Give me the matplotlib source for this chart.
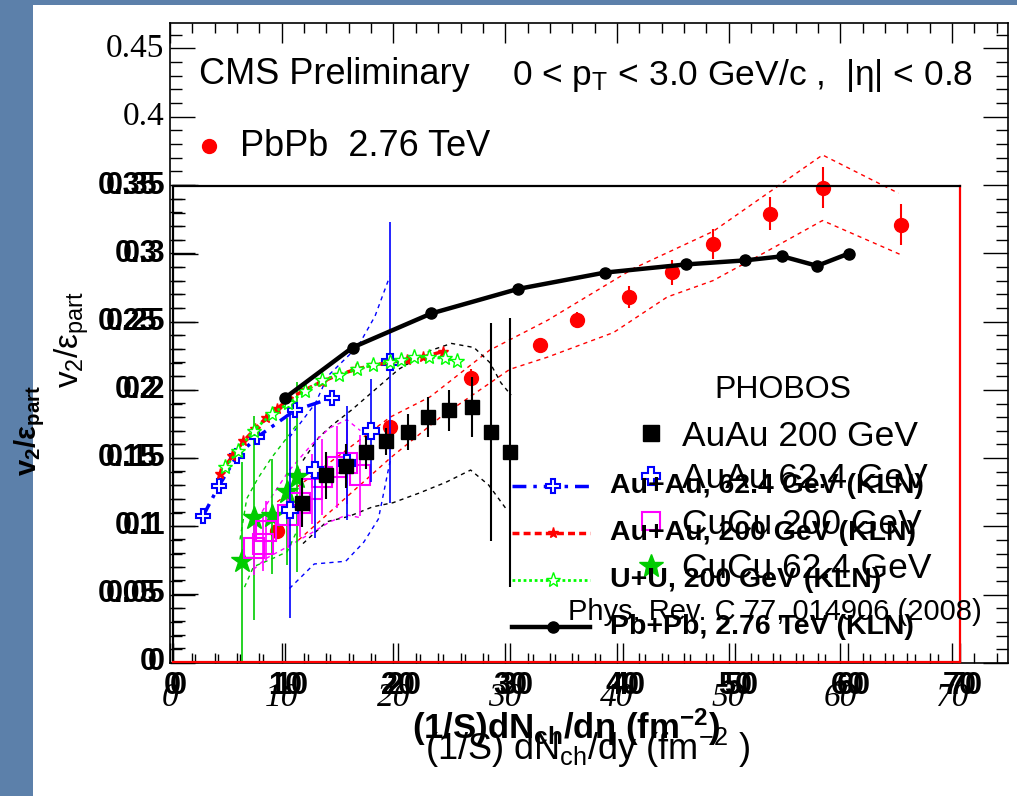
import matplotlib
matplotlib.use("Agg")
import matplotlib.pyplot as plt
from matplotlib.patches import Rectangle
from matplotlib.lines import Line2D
from matplotlib.ticker import MultipleLocator

plt.rcParams['font.family'] = ['Liberation Sans', 'DejaVu Sans']
plt.rcParams['mathtext.fontset'] = 'custom'
plt.rcParams['mathtext.rm'] = 'Liberation Sans'
plt.rcParams['mathtext.it'] = 'Liberation Sans'
plt.rcParams['mathtext.bf'] = 'Liberation Sans:bold'

# CMS PbPb 2.76 TeV
cms_x = [9.6, 19.7, 26.9, 33.1, 36.4, 41.1, 44.9, 48.6, 53.7, 58.4, 65.4]
cms_y = [0.097, 0.173, 0.209, 0.233, 0.251, 0.268, 0.286, 0.307, 0.329, 0.348, 0.321]
cms_err = [0.005, 0.005, 0.006, 0.005, 0.006, 0.008, 0.009, 0.011, 0.012, 0.015, 0.015]
cms_up_x = [9.6, 19.7, 23.3, 28.6, 33.8, 41.5, 48.6, 58.4, 65.2]
cms_up_y = [0.118, 0.180, 0.195, 0.229, 0.251, 0.289, 0.316, 0.372, 0.344]
cms_lo_x = [11.5, 19.7, 24.2, 30.4, 33.8, 39.7, 44.5, 48.6, 53.1, 58.4, 65.4]
cms_lo_y = [0.090, 0.150, 0.180, 0.215, 0.224, 0.242, 0.268, 0.280, 0.300, 0.324, 0.299]

# PHOBOS AuAu 200 GeV
auau200_x = [11.5, 13.6, 15.4, 17.2, 19.0, 20.9, 22.7, 24.6, 26.6, 28.3, 30.0]
auau200_y = [0.117, 0.137, 0.144, 0.154, 0.162, 0.169, 0.180, 0.185, 0.187, 0.169, 0.154]
auau200_err = [0.018, 0.017, 0.016, 0.012, 0.010, 0.013, 0.015, 0.015, 0.022, 0.080, 0.099]
auau200_up_x = [11.6, 13.0, 14.2, 15.9, 18.0, 20.1, 23.0, 24.8, 26.8, 28.2, 29.2, 30.1]
auau200_up_y = [0.148, 0.165, 0.174, 0.185, 0.200, 0.215, 0.229, 0.234, 0.231, 0.220, 0.205, 0.196]
auau200_lo_x = [11.6, 13.7, 15.7, 17.8, 19.6, 21.9, 24.3, 26.5, 28.1, 29.7]
auau200_lo_y = [0.087, 0.103, 0.107, 0.114, 0.117, 0.124, 0.132, 0.141, 0.130, 0.112]

# PHOBOS AuAu 62.4 GeV
auau62_x = [10.4, 12.7, 15.5, 17.6, 19.3]
auau62_y = [0.112, 0.141, 0.146, 0.170, 0.220]
auau62_err = [0.080, 0.050, 0.042, 0.038, 0.103]
auau62_up_x = [10.4, 12.7, 13.8, 16.5, 18.0, 19.3]
auau62_up_y = [0.165, 0.190, 0.210, 0.232, 0.254, 0.283]
auau62_lo_x = [10.4, 12.6, 15.4, 17.0, 18.3, 19.4]
auau62_lo_y = [0.054, 0.072, 0.074, 0.088, 0.105, 0.150]

# PHOBOS CuCu 200 GeV
cucu200_x = [7.2, 8.0, 8.3, 10.3, 11.3, 12.4, 13.3, 14.6, 15.5, 16.7]
cucu200_y = [0.084, 0.087, 0.096, 0.108, 0.117, 0.127, 0.136, 0.143, 0.146, 0.137]
cucu200_err = [0.020, 0.020, 0.022, 0.024, 0.025, 0.026, 0.028, 0.030, 0.030, 0.030]
cucu200_up_x = [7.2, 8.3, 10.3, 12.4, 14.0, 15.5, 16.7]
cucu200_up_y = [0.100, 0.115, 0.140, 0.160, 0.172, 0.178, 0.170]
cucu200_lo_x = [7.2, 8.3, 10.3, 12.4, 14.0, 15.5, 16.7]
cucu200_lo_y = [0.068, 0.076, 0.085, 0.095, 0.103, 0.108, 0.106]

# PHOBOS CuCu 62.4 GeV
cucu62_x = [6.2, 7.2, 8.8, 10.2, 11.1]
cucu62_y = [0.074, 0.106, 0.107, 0.125, 0.136]
cucu62_err = [0.073, 0.075, 0.042, 0.054, 0.070]
cucu62_up_x = [6.0, 6.6, 7.6, 8.8, 10.2, 11.1]
cucu62_up_y = [0.090, 0.120, 0.135, 0.150, 0.165, 0.175]
cucu62_lo_x = [6.4, 7.2, 8.9, 10.2, 11.1]
cucu62_lo_y = [0.055, 0.070, 0.076, 0.081, 0.097]

# KLN calculations
kln_au62_x = [2.7, 4.1, 5.7, 7.5, 10.9, 14.2]
kln_au62_y = [0.107, 0.129, 0.151, 0.165, 0.185, 0.194]
kln_au200_x = [4.2, 5.3, 6.3, 7.3, 8.3, 9.3, 10.3, 11.8, 13.3, 14.8, 16.3, 17.8, 19.3, 20.8, 22.3, 24.0]
kln_au200_y = [0.138, 0.151, 0.162, 0.171, 0.179, 0.186, 0.193, 0.200, 0.206, 0.211, 0.215, 0.218, 0.220, 0.222, 0.224, 0.228]
kln_uu_x = [4.7, 5.8, 7.2, 8.8, 10.3, 11.8, 13.3, 14.8, 16.4, 17.8, 19.3, 20.3, 21.5, 22.8, 24.2, 25.3]
kln_uu_y = [0.143, 0.155, 0.170, 0.182, 0.190, 0.199, 0.207, 0.211, 0.215, 0.218, 0.220, 0.222, 0.224, 0.224, 0.223, 0.221]
kln_pb_x = [10.0, 16.0, 23.0, 30.7, 38.4, 45.6, 50.9, 54.2, 57.3, 60.1]
kln_pb_y = [0.194, 0.231, 0.256, 0.274, 0.286, 0.292, 0.295, 0.298, 0.291, 0.300]

y_ticks = [0, 0.05, 0.1, 0.15, 0.2, 0.25, 0.3, 0.35]
y_tick_text = ["0", "0.05", "0.1", "0.15", "0.2", "0.25", "0.3", "0.35"]
x_ticks = [0, 10, 20, 30, 40, 50, 60, 70]

W, H = 1017, 796
PT = 0.72  # points per pixel at dpi 100

fig = plt.figure(figsize=(W / 100, H / 100), dpi=100)
fig.patch.set_facecolor('#5c80aa')
fig.add_artist(Rectangle((33 / W, 0), (W - 33) / W, (H - 5) / H, transform=fig.transFigure,
                         facecolor='white', edgecolor='none', zorder=-10))


def box(x0, y0, x1, y1):
    return [x0 / W, 1 - y1 / H, (x1 - x0) / W, (y1 - y0) / H]


def ftext(x, y, s, **kw):
    return fig.text(x / W, 1 - y / H, s, **kw)


def fmark(x, y, **kw):
    fig.add_artist(Line2D([x / W], [1 - y / H], transform=fig.transFigure, **kw))


# ---- CMS frame ----
ax_cms = fig.add_axes(box(170, 22.5, 1008, 663))
ax_cms.set_facecolor('white')
ax_cms.set_xlim(0, 75)
ax_cms.set_ylim(0, 0.469)
ax_cms.xaxis.set_major_locator(MultipleLocator(10))
ax_cms.xaxis.set_minor_locator(MultipleLocator(2))
ax_cms.yaxis.set_major_locator(MultipleLocator(0.05))
ax_cms.yaxis.set_minor_locator(MultipleLocator(0.01))
ax_cms.tick_params(which='both', direction='in', top=True, right=True,
                   labelbottom=False, labelleft=False, width=1.0)
ax_cms.tick_params(axis='x', which='major', length=20 * PT)
ax_cms.tick_params(axis='x', which='minor', length=10 * PT)
ax_cms.tick_params(axis='y', which='major', length=25 * PT)
ax_cms.tick_params(axis='y', which='minor', length=12 * PT)
for s in ax_cms.spines.values():
    s.set_linewidth(1.2)

ax_cms.errorbar(cms_x, cms_y, yerr=cms_err, fmt='o', color='#ff0000', ms=10,
                elinewidth=1.5, capsize=0, zorder=5)
ax_cms.plot(cms_up_x, cms_up_y, color='#ff0000', lw=1.0, ls=(0, (3, 3)), clip_on=False)
ax_cms.plot(cms_lo_x, cms_lo_y, color='#ff0000', lw=1.0, ls=(0, (3, 3)), clip_on=False)

# ---- PHOBOS / KLN frame ----
ax_in = fig.add_axes(box(172.5, 185.5, 960, 662))
ax_in.set_facecolor('none')
ax_in.set_xlim(0, 70)
ax_in.set_ylim(0, 0.35)
ax_in.xaxis.set_major_locator(MultipleLocator(10))
ax_in.xaxis.set_minor_locator(MultipleLocator(2))
ax_in.yaxis.set_major_locator(MultipleLocator(0.05))
ax_in.yaxis.set_minor_locator(MultipleLocator(0.01))
ax_in.tick_params(which='both', direction='in', labelbottom=False, labelleft=False, width=1.0)
ax_in.tick_params(axis='x', which='major', length=19 * PT)
ax_in.tick_params(axis='x', which='minor', length=8 * PT)
ax_in.tick_params(axis='y', which='major', length=25 * PT)
ax_in.tick_params(axis='y', which='minor', length=12 * PT)
ax_in.spines['top'].set_color('black')
ax_in.spines['left'].set_color('black')
ax_in.spines['right'].set_color('#ff0000')
ax_in.spines['bottom'].set_color('#ff0000')
for s in ax_in.spines.values():
    s.set_linewidth(1.6)

dash = (0, (3, 3))
ax_in.plot(auau200_up_x, auau200_up_y, color='black', lw=1.0, ls=dash)
ax_in.plot(auau200_lo_x, auau200_lo_y, color='black', lw=1.0, ls=dash)
ax_in.plot(auau62_up_x, auau62_up_y, color='#0000ff', lw=1.0, ls=dash)
ax_in.plot(auau62_lo_x, auau62_lo_y, color='#0000ff', lw=1.0, ls=dash)
ax_in.plot(cucu200_up_x, cucu200_up_y, color='#ff00ff', lw=1.0, ls=dash)
ax_in.plot(cucu200_lo_x, cucu200_lo_y, color='#ff00ff', lw=1.0, ls=dash)
ax_in.plot(cucu62_up_x, cucu62_up_y, color='#00cc00', lw=1.0, ls=dash)
ax_in.plot(cucu62_lo_x, cucu62_lo_y, color='#00cc00', lw=1.0, ls=dash)

ax_in.errorbar(cucu62_x, cucu62_y, yerr=cucu62_err, fmt='*', color='#00cc00', ms=17,
               elinewidth=1.2, capsize=0, zorder=3)
ax_in.errorbar(cucu200_x, cucu200_y, yerr=cucu200_err, fmt='s', color='#ff00ff', mfc='none',
               mew=1.5, ms=14, elinewidth=1.2, capsize=0, zorder=3)
ax_in.errorbar(auau62_x, auau62_y, yerr=auau62_err, fmt='P', color='#0000ff', mfc='white',
               mew=1.5, ms=12, elinewidth=1.2, capsize=0, zorder=4)
ax_in.errorbar(auau200_x, auau200_y, yerr=auau200_err, fmt='s', color='black', ms=10,
               elinewidth=1.5, capsize=0, zorder=4)

ax_in.plot(kln_au62_x, kln_au62_y, color='#0000ff', lw=2.5, ls=(0, (4, 2, 1, 2)),
           marker='P', ms=10, mfc='white', mew=1.5, zorder=6)
ax_in.plot(kln_au200_x, kln_au200_y, color='#ff0000', lw=2.5, ls=(0, (2, 1.2)),
           marker='*', ms=8, zorder=6)
ax_in.plot(kln_uu_x, kln_uu_y, color='#00ff00', lw=2.0, ls=(0, (1, 1)),
           marker='*', ms=11, mfc='white', mew=1.0, zorder=6)
ax_in.plot(kln_pb_x, kln_pb_y, color='black', lw=3.2, marker='o', ms=8, zorder=7)

# ---- tick labels (two bold sets from the overlaid frames, one serif set) ----
for v, t in zip(y_ticks, y_tick_text):
    yp = 662 - v * 1361.4
    ftext(165, yp, t, ha='right', va='center', fontsize=22, fontweight='bold')
    ftext(157, yp, t, ha='right', va='center', fontsize=22, fontweight='bold')
for v in (0.4, 0.45):
    yp = 663 - v * 1366
    ftext(164, yp, str(v), ha='right', va='center', fontsize=24,
          family='Liberation Serif')
for v in x_ticks:
    ftext(170 + v * 838 / 75, 698, str(v), ha='center', va='center', fontsize=24,
          family='Liberation Serif', style='italic')
    ftext(172.5 + v * 11.25, 686, str(v), ha='center', va='center', fontsize=22,
          fontweight='bold')
    ftext(178.5 + v * 11.25, 686, str(v), ha='center', va='center', fontsize=22,
          fontweight='bold')

# ---- axis titles ----
ftext(566, 727, r'(1/S)dN$\mathbf{_{ch}}$/d$\mathbf{\eta}$ (fm$\mathbf{^{-2}}$)',
      ha='center', va='center', fontsize=25, fontweight='bold')
ftext(588, 748, r'(1/S) dN$_{\rm ch}$/dy (fm$^{-2}$ )', ha='center', va='center', fontsize=26)
ftext(30, 430, r'$\mathbf{v_2/\varepsilon_{part}}$', ha='center', va='center',
      fontsize=21, rotation=90)
ftext(72, 340, r'$v_2/\varepsilon_{part}$', ha='center', va='center', fontsize=24, rotation=90)

# ---- CMS header ----
ftext(199, 75, 'CMS Preliminary', ha='left', va='center', fontsize=26)
ftext(512, 75, r'0 < p$_{\rm T}$ < 3.0 GeV/c ,  |η| < 0.8', ha='left', va='center', fontsize=25.5)
fmark(209, 146, marker='o', ms=10, color='#ff0000', ls='none')
ftext(240, 146, 'PbPb  2.76 TeV', ha='left', va='center', fontsize=26)

# ---- PHOBOS legend ----
ftext(783, 390, 'PHOBOS', ha='center', va='center', fontsize=23)
pho_rows = [('AuAu 200 GeV', 436, dict(marker='s', ms=11, color='black')),
            ('AuAu 62.4 GeV', 479, dict(marker='P', ms=13, color='#0000ff', mfc='white', mew=1.5)),
            ('CuCu 200 GeV', 524, dict(marker='s', ms=13, color='#ff00ff', mfc='none', mew=1.5)),
            ('CuCu 62.4 GeV', 569, dict(marker='*', ms=18, color='#00cc00'))]
for label, yp, style in pho_rows:
    fmark(651, yp - 3, ls='none', **style)
    ftext(682, yp, label, ha='left', va='center', fontsize=25.5)
ftext(568, 612, 'Phys. Rev. C 77, 014906 (2008)', ha='left', va='center', fontsize=21)

# ---- KLN legend ----
kln_rows = [('Au+Au, 62.4 GeV (KLN)', 486,
             dict(color='#0000ff', lw=2.5, ls=(0, (4, 2, 1, 2))),
             dict(marker='P', ms=10, color='#0000ff', mfc='white', mew=1.5)),
            ('Au+Au, 200 GeV (KLN)', 533,
             dict(color='#ff0000', lw=2.5, ls=(0, (2, 1.2))),
             dict(marker='*', ms=8, color='#ff0000')),
            ('U+U, 200 GeV (KLN)', 580,
             dict(color='#00ff00', lw=2.0, ls=(0, (1, 1))),
             dict(marker='*', ms=11, color='#00ff00', mfc='white', mew=1.0)),
            ('Pb+Pb, 2.76 TeV (KLN)', 627,
             dict(color='black', lw=3.2),
             dict(marker='o', ms=8, color='black'))]
for label, yp, line_style, mark_style in kln_rows:
    fig.add_artist(Line2D([512 / W, 590 / W], [1 - yp / H, 1 - yp / H],
                          transform=fig.transFigure, **line_style))
    fmark(553, yp, ls='none', **mark_style)
    ftext(610, yp, label, ha='left', va='center', fontsize=20.5, fontweight='bold')

fig.savefig('out.png', dpi=100, facecolor=fig.get_facecolor())
